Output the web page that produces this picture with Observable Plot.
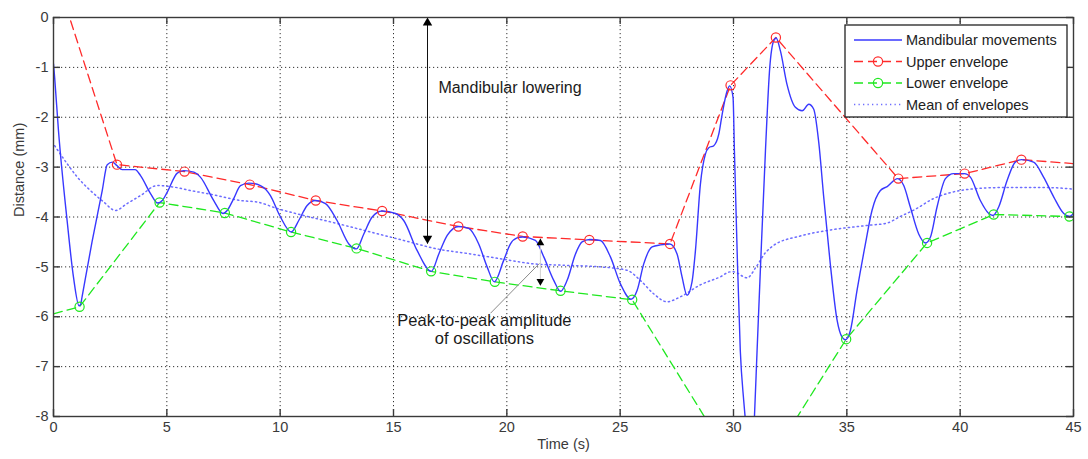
<!DOCTYPE html>
<html><head><meta charset="utf-8">
<script src="https://cdn.jsdelivr.net/npm/d3@7"></script>
<script src="https://cdn.jsdelivr.net/npm/@observablehq/plot@0.6"></script>
<style>
html,body{margin:0;padding:0;background:#fff;}
#chart{width:1088px;height:459px;}
</style></head><body><div id="chart"></div>
<script>
// ---- Data ----
const mmTime = [0,0.05,0.22,0.6,0.88,1.13,1.2,1.26,1.7,2.15,2.37,2.6,2.8,3.03,3.6,3.84,4.28,4.6,4.8,5.02,5.46,5.75,6.19,6.48,7.07,7.48,7.66,7.95,8.25,8.62,9.13,9.57,9.98,10.49,10.82,11.19,11.56,12.0,12.51,13.03,13.37,13.69,14.06,14.5,15.09,15.45,16.04,16.67,17.0,17.37,17.88,18.32,18.76,19.13,19.45,19.86,20.16,20.45,20.7,21.26,21.63,22.07,22.37,22.66,23.03,23.32,23.66,24.13,24.57,25.01,25.48,25.75,26.04,26.41,26.78,27.19,27.51,27.73,27.95,28.17,28.32,28.54,28.76,28.91,29.13,29.35,29.5,29.72,29.83,29.98,30.04,30.16,30.3,30.45,30.52,30.72,30.92,31.04,31.19,31.41,31.6,31.77,31.88,32.07,32.36,32.73,33.03,33.32,33.54,33.76,33.98,34.27,34.57,34.79,34.94,35.16,35.45,35.82,36.11,36.48,36.78,37.24,37.51,37.8,38.17,38.47,38.69,38.98,39.35,39.71,40.19,40.45,40.89,41.26,41.45,41.7,42.07,42.43,42.7,43.24,43.68,44.13,44.57,44.83,45];
const mmDist = [-0.93,-1.2,-2.27,-4.07,-5.2,-5.78,-5.75,-5.6,-4.5,-3.47,-2.95,-2.9,-2.97,-3.05,-3.05,-3.17,-3.53,-3.72,-3.67,-3.5,-3.12,-3.07,-3.1,-3.2,-3.67,-3.93,-3.87,-3.63,-3.37,-3.32,-3.37,-3.57,-3.97,-4.3,-4.07,-3.77,-3.67,-3.73,-4.07,-4.54,-4.64,-4.34,-4.0,-3.88,-3.93,-4.07,-4.67,-5.09,-4.74,-4.37,-4.19,-4.23,-4.54,-5.0,-5.3,-4.87,-4.54,-4.42,-4.4,-4.47,-4.8,-5.27,-5.49,-5.27,-4.74,-4.5,-4.45,-4.47,-4.8,-5.34,-5.65,-5.47,-4.94,-4.6,-4.56,-4.54,-4.74,-5.2,-5.57,-5.3,-4.68,-3.34,-2.74,-2.61,-2.57,-2.34,-1.94,-1.47,-1.37,-1.6,-2.67,-4.68,-6.68,-7.68,-8.05,-9.5,-8.05,-6.68,-5.01,-2.67,-1.0,-0.47,-0.41,-0.67,-1.34,-1.8,-1.87,-1.74,-1.84,-2.5,-3.6,-4.94,-6.07,-6.41,-6.46,-6.27,-5.47,-4.54,-3.87,-3.47,-3.39,-3.23,-3.37,-3.8,-4.34,-4.52,-4.4,-3.8,-3.23,-3.13,-3.13,-3.2,-3.67,-3.93,-3.97,-3.8,-3.27,-2.9,-2.85,-2.9,-3.2,-3.6,-3.93,-3.99,-3.93];

const upperTime = [0,2.8,5.78,8.66,11.57,14.5,17.86,20.7,23.64,27.2,29.87,31.87,37.27,40.2,42.7,45];
const upperDist = [1.0,-2.95,-3.09,-3.35,-3.67,-3.88,-4.19,-4.39,-4.46,-4.54,-1.36,-0.4,-3.23,-3.13,-2.85,-2.93];

const lowerTime = [0,1.15,4.68,7.56,10.48,13.37,16.66,19.47,22.37,25.53,30.75,34.97,38.54,41.48,44.82,45];
const lowerDist = [-5.94,-5.8,-3.71,-3.92,-4.3,-4.63,-5.09,-5.3,-5.48,-5.66,-9.5,-6.45,-4.52,-3.95,-3.99,-3.99];

const meanTime = [0.05,0.6,1.05,1.63,2.22,2.73,3.25,3.84,4.57,5.31,6.04,6.78,7.51,8.25,8.99,9.87,11.04,12.51,13.98,15.45,16.93,18.39,20.16,21.19,22.66,24.13,25.31,25.89,26.48,27.07,27.66,28.54,29.42,29.86,30.0,30.6,31.0,31.4,31.77,32.95,34.42,35.89,36.78,37.36,38.0,38.83,39.5,40.3,41.77,43.83,45];
const meanDist = [-2.57,-2.93,-3.2,-3.47,-3.7,-3.87,-3.73,-3.57,-3.37,-3.4,-3.47,-3.53,-3.6,-3.67,-3.7,-3.83,-3.97,-4.13,-4.3,-4.47,-4.64,-4.74,-4.87,-4.94,-4.97,-5.0,-5.07,-5.27,-5.54,-5.7,-5.6,-5.36,-5.2,-5.1,-5.1,-5.22,-5.0,-4.72,-4.57,-4.38,-4.25,-4.17,-4.12,-3.99,-3.85,-3.63,-3.52,-3.45,-3.41,-3.41,-3.44];

const xTicks = [0,5,10,15,20,25,30,35,40,45];
const yTicks = [0,-1,-2,-3,-4,-5,-6,-7,-8];
const seriesNames = ["Mandibular movements","Upper envelope","Lower envelope","Mean of envelopes"];

// annotations
const loweringText = ["Mandibular lowering"];
const loweringArrowT = [16.5];
const loweringArrowY = [0, -4.54];
const loweringTextPos = [16.98, -1.42];
const ptpText = ["Peak-to-peak amplitude\nof oscillations"];
const ptpTextPos = [19.01, -6.25];
const ptpLeaderT = [19.28, 21.44];
const ptpLeaderY = [-5.93, -4.93];
const ptpArrowT = [21.48];
const ptpArrowY = [-4.43, -5.38];

// ---- Build ----
const toRows = (ts, ys) => ts.map((t, i) => ({t, y: ys[i]}));
const mm = toRows(mmTime, mmDist);
const up = toRows(upperTime, upperDist);
const lo = toRows(lowerTime, lowerDist);
const mean = toRows(meanTime, meanDist);
const upMarks = up.slice(1, -1);
const loMarks = lo.slice(1, -1);

const FONT = "'Liberation Sans', Arial, Helvetica, sans-serif";
const BLUE = "#3838ff", RED = "#ff2a2a", GREEN = "#1fe81f", MEANC = "#6d6dff";
const AX = "#3a3a3a";

const W = 1088, H = 459, ML = 53, MR = 15, MT = 17, MB = 43;
const fw = W - ML - MR, fh = H - MT - MB;

const plot = Plot.plot({
  width: W, height: H,
  marginLeft: ML, marginRight: MR, marginTop: MT, marginBottom: MB,
  style: {fontFamily: FONT, fontSize: "14px", background: "#fff", color: AX},
  x: {domain: [0, 45]},
  y: {domain: [-8, 0]},
  marks: [
    // grid
    Plot.ruleX(xTicks, {x: d => d, stroke: "#333", strokeWidth: 1, strokeDasharray: "1.2,2.8"}),
    Plot.ruleY(yTicks, {y: d => d, stroke: "#333", strokeWidth: 1, strokeDasharray: "1.2,2.8"}),
    // data
    Plot.line(mean, {x: "t", y: "y", stroke: MEANC, strokeWidth: 1.5, strokeDasharray: "1.3,3.2", curve: "monotone-x", clip: true}),
    Plot.line(up, {x: "t", y: "y", stroke: RED, strokeWidth: 1.3, strokeDasharray: "9,5", clip: true}),
    Plot.line(lo, {x: "t", y: "y", stroke: GREEN, strokeWidth: 1.3, strokeDasharray: "9,5", clip: true}),
    Plot.line(mm, {x: "t", y: "y", stroke: BLUE, strokeWidth: 1.4, curve: "monotone-x", clip: true}),
    Plot.dot(upMarks, {x: "t", y: "y", r: 4.6, stroke: RED, strokeWidth: 1.2, fill: "none", clip: true}),
    Plot.dot(loMarks, {x: "t", y: "y", r: 4.6, stroke: GREEN, strokeWidth: 1.2, fill: "none", clip: true}),
    // annotation: mandibular lowering
    Plot.ruleX(loweringArrowT, {x: d => d, y1: loweringArrowY[0], y2: loweringArrowY[1], stroke: "#111", strokeWidth: 1}),
    Plot.dot(loweringArrowT, {x: d => d, y: loweringArrowY[0], symbol: "triangle", r: 3.5, fill: "#000", stroke: "none", dy: 5.4}),
    Plot.dot(loweringArrowT, {x: d => d, y: loweringArrowY[1], symbol: "triangle", r: 3.5, fill: "#000", stroke: "none", rotate: 180, dy: -5.4}),
    Plot.text(loweringText, {x: loweringTextPos[0], y: loweringTextPos[1], text: d => d, textAnchor: "start", fontSize: 16, fill: "#1a1a1a"}),
    // annotation: peak-to-peak
    Plot.link([0], {x1: ptpLeaderT[0], y1: ptpLeaderY[0], x2: ptpLeaderT[1], y2: ptpLeaderY[1], stroke: "#8a8a8a", strokeWidth: 1}),
    Plot.ruleX(ptpArrowT, {x: d => d, y1: ptpArrowY[0], y2: ptpArrowY[1], stroke: "#d0d0d0", strokeWidth: 1}),
    Plot.dot(ptpArrowT, {x: d => d, y: ptpArrowY[0], symbol: "triangle", r: 2.9, fill: "#000", stroke: "none", dy: 4.5}),
    Plot.dot(ptpArrowT, {x: d => d, y: ptpArrowY[1], symbol: "triangle", r: 2.9, fill: "#000", stroke: "none", rotate: 180, dy: -4.5}),
    Plot.text(ptpText, {x: ptpTextPos[0], y: ptpTextPos[1], text: d => d, textAnchor: "middle", fontSize: 16.5, lineHeight: 1.1, fill: "#1a1a1a"}),
    // frame and inward ticks (MATLAB style)
    Plot.frame({stroke: AX, strokeWidth: 1.4}),
    Plot.tickX(xTicks, {x: d => d, insetTop: fh - 7, stroke: AX, strokeWidth: 1.4}),
    Plot.tickX(xTicks, {x: d => d, insetBottom: fh - 7, stroke: AX, strokeWidth: 1.4}),
    Plot.tickY(yTicks, {y: d => d, insetRight: fw - 7, stroke: AX, strokeWidth: 1.4}),
    Plot.tickY(yTicks, {y: d => d, insetLeft: fw - 7, stroke: AX, strokeWidth: 1.4}),
    Plot.axisX(xTicks, {tickSize: 0, tickPadding: 5, label: null, tickFormat: d => String(d), fontSize: 14.5, fill: AX}),
    Plot.axisY(yTicks, {tickSize: 0, tickPadding: 5, label: null, tickFormat: d => String(d), fontSize: 14.5, fill: AX}),
    Plot.text(["Time (s)"], {frameAnchor: "bottom", dy: 32, text: d => d, fontSize: 14.5, fill: AX}),
    Plot.text(["Distance (mm)"], {frameAnchor: "left", dx: -34, rotate: -90, text: d => d, fontSize: 14.5, fill: AX})
  ]
});

// ---- Legend (inside the axes, top-right, MATLAB style) ----
const svg = d3.select(plot);
const lg = svg.append("g").attr("font-family", FONT).attr("font-size", 14.5).attr("text-anchor", "start");
const bx = ML + fw - 228, by = MT + 8, bw = 222, bh = 92;
lg.append("rect").attr("x", bx).attr("y", by).attr("width", bw).attr("height", bh)
  .attr("fill", "#fff").attr("stroke", "#222").attr("stroke-width", 1.3);
const legendStyles = [
  {stroke: BLUE, dash: null, circle: false, w: 1.4},
  {stroke: RED, dash: "9,5", circle: true, w: 1.3},
  {stroke: GREEN, dash: "9,5", circle: true, w: 1.3},
  {stroke: MEANC, dash: "1.3,3.2", circle: false, w: 1.5}
];
seriesNames.forEach((name, i) => {
  const s = legendStyles[i];
  const yy = by + 15 + i * 21.5;
  const l = lg.append("line").attr("x1", bx + 9).attr("x2", bx + 57).attr("y1", yy).attr("y2", yy)
    .attr("stroke", s.stroke).attr("stroke-width", s.w);
  if (s.dash) l.attr("stroke-dasharray", s.dash);
  if (s.circle) lg.append("circle").attr("cx", bx + 33).attr("cy", yy).attr("r", 4.6)
    .attr("fill", "none").attr("stroke", s.stroke).attr("stroke-width", 1.2);
  lg.append("text").attr("x", bx + 61).attr("y", yy).attr("dy", "0.35em")
    .attr("text-anchor", "start").attr("fill", "#222").text(name);
});

document.getElementById("chart").appendChild(plot);
</script>
</body></html>
